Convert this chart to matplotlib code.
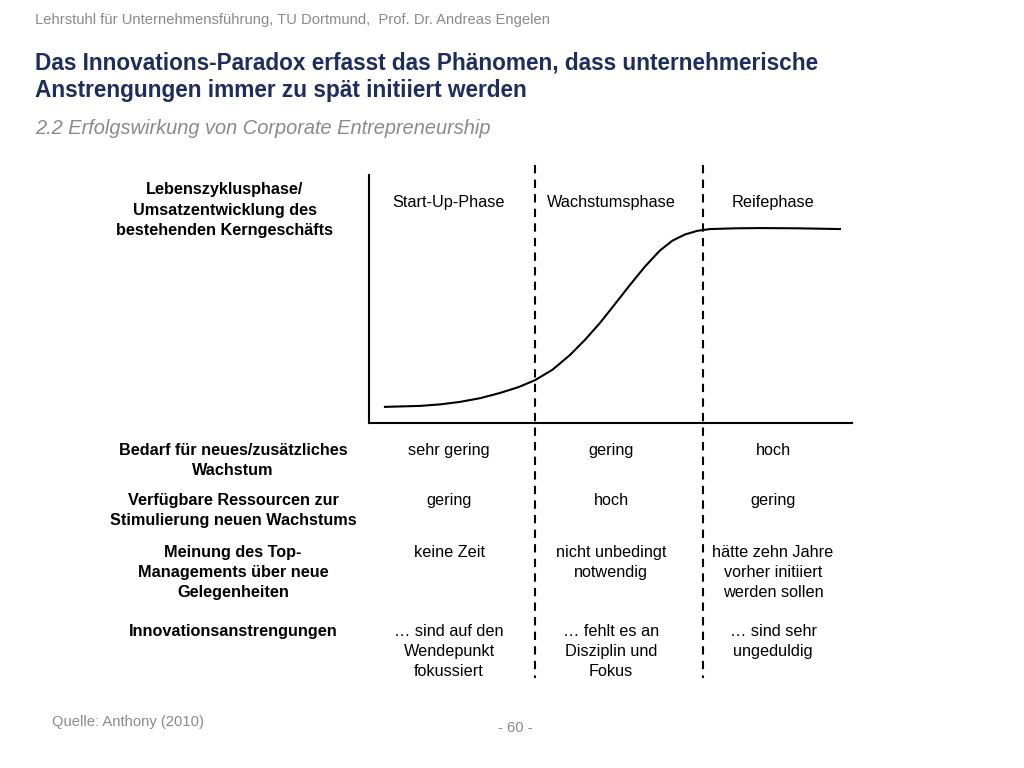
import matplotlib
matplotlib.use("Agg")
import matplotlib.pyplot as plt

curve_x = [3.3, 10.6, 14.7, 18.8, 23.0, 27.1, 31.0, 34.4, 38.0, 41.6, 44.7, 47.8, 50.9, 54.0, 57.1, 60.2, 62.8, 65.4, 68.0, 70.6, 75.8, 81.0, 89.0, 97.5]
curve_y = [6.5, 6.9, 7.5, 8.5, 10.0, 12.1, 14.5, 17.3, 21.5, 27.4, 33.5, 40.3, 47.9, 55.6, 63.0, 69.5, 73.5, 76.0, 77.5, 78.2, 78.5, 78.6, 78.5, 78.2]
phases = ["Start-Up-Phase", "Wachstumsphase", "Reifephase"]
row_labels = ["Bedarf für neues/zusätzliches\nWachstum",
              "Verfügbare Ressourcen zur\nStimulierung neuen Wachstums",
              "Meinung des Top-\nManagements über neue\nGelegenheiten",
              "Innovationsanstrengungen"]
row_values = [["sehr gering", "gering", "hoch"],
              ["gering", "hoch", "gering"],
              ["keine Zeit", "nicht unbedingt\nnotwendig", "hätte zehn Jahre\nvorher initiiert\nwerden sollen"],
              ["… sind auf den\nWendepunkt\nfokussiert", "… fehlt es an\nDisziplin und\nFokus", "… sind sehr\nungeduldig"]]

fig = plt.figure(figsize=(10.24, 7.68), dpi=100)
ov = fig.add_axes([0, 0, 1, 1])
ov.set_xlim(0, 1024); ov.set_ylim(768, 0); ov.axis("off")

F = "Liberation Sans"
FS = 11.7
LS = 1.42
ov.text(35, 20, "Lehrstuhl für Unternehmensführung, TU Dortmund,  Prof. Dr. Andreas Engelen",
        fontsize=10.6, color="#8a8a8a", va="center", family=F)
ov.text(35, 63, "Das Innovations-Paradox erfasst das Phänomen, dass unternehmerische",
        fontsize=16.3, color="#1f2d5c", weight="bold", va="center", family=F)
ov.text(35, 91, "Anstrengungen immer zu spät initiiert werden",
        fontsize=16.3, color="#1f2d5c", weight="bold", va="center", family=F)
ov.text(35, 128, "2.2 Erfolgswirkung von Corporate Entrepreneurship",
        fontsize=14.4, color="#8a8a8a", style="italic", va="center", family=F)
ov.text(225, 210, "Lebenszyklusphase/\nUmsatzentwicklung des\nbestehenden Kerngeschäfts",
        fontsize=FS, weight="bold", ha="center", va="center", linespacing=LS, family=F)

cols = [449, 611, 773]
for c, p in zip(cols, phases):
    ov.text(c, 202, p, fontsize=FS, ha="center", va="center", family=F)

for xd in [535, 703]:
    ov.plot([xd, xd], [165, 678], color="black", ls=(0, (4, 3)), lw=1.5)

rows_y = [443, 493, 545, 624]
for y, lab, vals in zip(rows_y, row_labels, row_values):
    ov.text(233, y, lab, fontsize=FS, weight="bold", ha="center", va="top",
            linespacing=LS, family=F)
    for c, v in zip(cols, vals):
        ov.text(c, y, v, fontsize=FS, ha="center", va="top", linespacing=LS, family=F)

ov.text(52, 722, "Quelle: Anthony (2010)", fontsize=10.6, color="#8a8a8a", va="center", family=F)
ov.text(515, 728, "- 60 -", fontsize=10.6, color="#8a8a8a", ha="center", va="center", family=F)

ax = fig.add_axes([369/1024, (768-423)/768, 483/1024, 248/768])
ax.plot(curve_x, curve_y, color="black", lw=1.5)
ax.set_xlim(0, 100); ax.set_ylim(0, 100)
ax.set_xticks([]); ax.set_yticks([])
for s in ["top", "right"]:
    ax.spines[s].set_visible(False)
for s in ["left", "bottom"]:
    ax.spines[s].set_linewidth(1.5)
ax.patch.set_alpha(0)

fig.savefig("out.png", dpi=100)
